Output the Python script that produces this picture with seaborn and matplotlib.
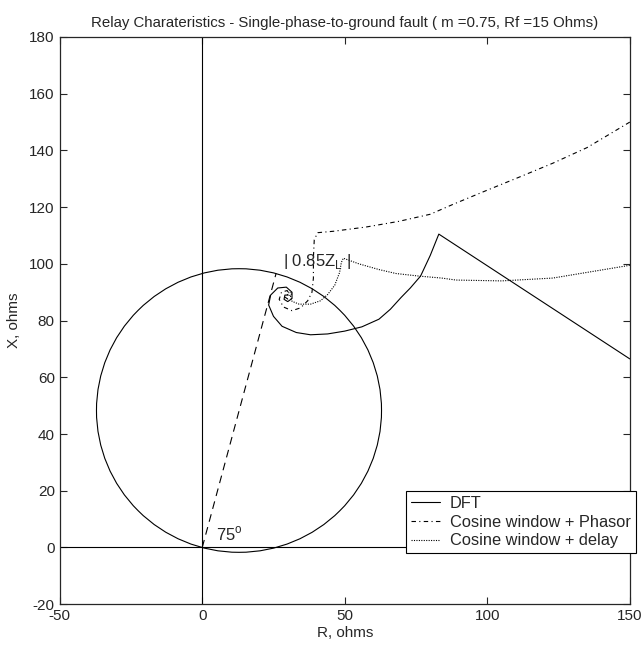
import matplotlib
matplotlib.use("Agg")
import matplotlib.pyplot as plt
import matplotlib.patches as mpatches
import pandas as pd
import seaborn as sns

# trajectories of the measured impedance (R, X in ohms)
dft_r = [150, 83, 82, 80, 76.6, 73, 69.8, 66, 62, 56, 50, 44, 38, 33, 28, 25,
         23.3, 24, 26.5, 29.5, 31.5, 31.5, 30, 28.7, 29, 30.2]
dft_x = [66.5, 110.5, 108, 103, 95.7, 91.5, 88.2, 84, 80.5, 77.8, 76.3, 75.3,
         75, 75.8, 78, 81.5, 85.5, 89, 91.5, 91.8, 90, 87.8, 86.7, 87.5, 89, 89]

phasor_r = [150, 135, 123, 111, 100, 88, 80, 69, 57.5, 46, 40.5, 39.3, 39, 39,
            38.5, 37, 34.5, 31.5, 28.5, 27, 27.8, 29.8, 30.8, 30, 29]
phasor_x = [150, 141, 135.5, 130.5, 126, 121, 117.5, 115, 113, 111.5, 111,
            108.5, 102, 95, 90, 87, 84.5, 83.5, 84.8, 87.5, 90, 90.6, 89, 87.6, 88.3]

delay_r = [150, 135, 123, 105, 89, 84, 76, 68, 62, 55, 49.5, 48.8, 48.2, 46.5,
           44, 41.5, 38, 34, 31.5, 31, 31.5, 30.5, 29.8]
delay_x = [99.5, 97, 95, 94, 94.3, 95, 95.7, 96.6, 98, 100, 102, 100.5, 97,
           92.5, 89.2, 87, 85.8, 85.8, 86.8, 88.5, 89.8, 90, 89]

# mho characteristic: reach 0.85 Z_L at line angle
reach_r = [0, 25.9]
reach_x = [0, 96.6]
circle_center = (12.9, 48.3)
circle_radius = 50.0

sns.set_style("ticks")
plt.rcParams["font.family"] = ["Liberation Sans", "DejaVu Sans"]
plt.rcParams["xtick.direction"] = "in"
plt.rcParams["ytick.direction"] = "in"
plt.rcParams["axes.unicode_minus"] = False

fig = plt.figure(figsize=(6.42, 6.49), dpi=100)
ax = fig.add_axes([0.093, 0.069, 0.888, 0.874])

lw = 0.8
series = [("DFT", dft_r, dft_x, "-"),
          ("Cosine window + Phasor", phasor_r, phasor_x, (0, (4, 3, 1, 3))),
          ("Cosine window + delay", delay_r, delay_x, (0, (1, 1.2)))]
for name, r, x, ls in series:
    df = pd.DataFrame({"R": r, "X": x})
    sns.lineplot(data=df, x="R", y="X", sort=False, estimator=None,
                 color="black", linewidth=lw, linestyle=ls, label=name, ax=ax)

sns.lineplot(x=reach_r, y=reach_x, sort=False, estimator=None, color="black",
             linewidth=lw, linestyle=(0, (7, 5)), ax=ax)
ax.add_patch(mpatches.Circle(circle_center, circle_radius, fill=False,
                             edgecolor="black", linewidth=lw))
ax.axhline(0, color="black", linewidth=0.8)
ax.axvline(0, color="black", linewidth=0.8)

ax.text(28.5, 101, r"| 0.85Z$_\mathregular{L}$ |", fontsize=12, va="center", ha="left")
ax.text(5, 1.5, "75$^\\mathregular{o}$", fontsize=12, va="bottom", ha="left")

ax.set_xlim(-50, 150)
ax.set_ylim(-20, 180)
ax.set_xticks([-50, 0, 50, 100, 150])
ax.set_yticks(range(-20, 181, 20))
ax.tick_params(top=True, right=True, length=5, labelsize=11, width=0.8)
for s in ax.spines.values():
    s.set_visible(True)
    s.set_linewidth(0.9)
ax.set_xlabel("R, ohms", fontsize=11, labelpad=2)
ax.set_ylabel("X, ohms", fontsize=11, labelpad=6)
ax.set_title("Relay Charateristics - Single-phase-to-ground fault ( m =0.75, Rf =15 Ohms)",
             fontsize=10.8, pad=7)

leg = ax.legend(loc="lower left", bbox_to_anchor=(0.607, 0.09),
                fancybox=False, framealpha=1, edgecolor="black",
                fontsize=11.8, handlelength=1.8, borderpad=0.3, labelspacing=0.22,
                handletextpad=0.6, borderaxespad=0)
leg.get_frame().set_linewidth(0.8)

fig.savefig("out.png", dpi=100)
